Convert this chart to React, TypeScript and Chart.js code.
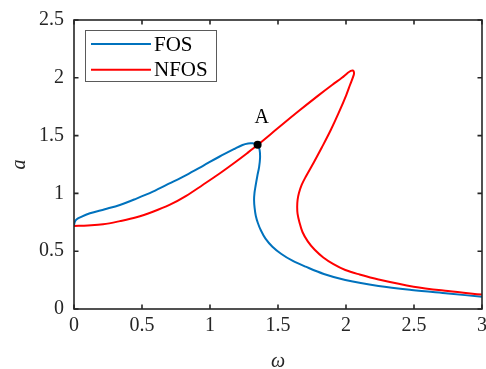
import { useEffect, useRef } from 'react';
import { Chart, registerables } from 'chart.js';

Chart.register(...registerables);

// FOS curve (blue): omega values and amplitudes, in drawing order
const fosOmega = [0, 0.007, 0.018, 0.044, 0.117, 0.227, 0.337, 0.459, 0.58, 0.702, 0.825, 0.946, 1.068, 1.178, 1.239, 1.28, 1.312, 1.335, 1.351, 1.365, 1.368, 1.361, 1.348, 1.335, 1.327, 1.324, 1.328, 1.337, 1.352, 1.373, 1.408, 1.459, 1.525, 1.606, 1.703, 1.837, 1.995, 2.239, 2.482, 2.751, 3.0];
const fosAmp = [0.727, 0.757, 0.774, 0.792, 0.828, 0.863, 0.9, 0.955, 1.015, 1.086, 1.159, 1.237, 1.317, 1.384, 1.419, 1.432, 1.433, 1.427, 1.419, 1.375, 1.306, 1.228, 1.151, 1.064, 1.003, 0.943, 0.874, 0.804, 0.744, 0.683, 0.609, 0.539, 0.476, 0.418, 0.366, 0.303, 0.251, 0.199, 0.164, 0.134, 0.106];

// NFOS curve (red): omega values and amplitudes, in drawing order
const nfosOmega = [0, 0.102, 0.214, 0.337, 0.459, 0.58, 0.702, 0.825, 0.946, 1.068, 1.19, 1.273, 1.351, 1.5, 1.65, 1.8, 1.9, 1.97, 2.01, 2.035, 2.05, 2.058, 2.057, 2.03, 2.002, 1.946, 1.888, 1.824, 1.765, 1.703, 1.674, 1.654, 1.644, 1.641, 1.644, 1.657, 1.68, 1.719, 1.77, 1.833, 1.908, 1.995, 2.1, 2.239, 2.497, 2.75, 3.0];
const nfosAmp = [0.718, 0.723, 0.733, 0.76, 0.793, 0.841, 0.9, 0.979, 1.073, 1.17, 1.274, 1.348, 1.42, 1.565, 1.71, 1.85, 1.94, 2.0, 2.04, 2.06, 2.063, 2.05, 2.025, 1.94, 1.851, 1.696, 1.548, 1.401, 1.272, 1.142, 1.073, 1.003, 0.943, 0.882, 0.822, 0.753, 0.666, 0.585, 0.512, 0.446, 0.388, 0.337, 0.298, 0.255, 0.193, 0.155, 0.125];

// marked point
const markOmega = [1.35];
const markAmp = [1.42];
const markLabels = ['A'];

const seriesLabels = ['FOS', 'NFOS'];
const seriesColors = ['#0072BD', '#FF0000'];

const xTickValues = [0, 0.5, 1, 1.5, 2, 2.5, 3];
const xTickLabels = ['0', '0.5', '1', '1.5', '2', '2.5', '3'];
const yTickValues = [0, 0.5, 1, 1.5, 2, 2.5];
const yTickLabels = ['0', '0.5', '1', '1.5', '2', '2.5'];
const xTitle = 'ω';
const yTitle = 'a';

const FONT = '"Liberation Serif", "Times New Roman", serif';
const AXIS_COLOR = '#262626';

const decorPlugin = {
  id: 'decor',
  afterDatasetsDraw(chart: any) {
    const ctx = chart.ctx;
    const { left, top, right, bottom } = chart.chartArea;
    const xs = chart.scales.x;
    const ys = chart.scales.y;
    ctx.save();
    // box frame
    ctx.strokeStyle = AXIS_COLOR;
    ctx.lineWidth = 1.6;
    ctx.strokeRect(left, top, right - left, bottom - top);
    // inward ticks on all four sides
    const tl = 4.5;
    ctx.beginPath();
    xTickValues.forEach((v) => {
      const px = xs.getPixelForValue(v);
      ctx.moveTo(px, bottom);
      ctx.lineTo(px, bottom - tl);
      ctx.moveTo(px, top);
      ctx.lineTo(px, top + tl);
    });
    yTickValues.forEach((v) => {
      const py = ys.getPixelForValue(v);
      ctx.moveTo(left, py);
      ctx.lineTo(left + tl, py);
      ctx.moveTo(right, py);
      ctx.lineTo(right - tl, py);
    });
    ctx.stroke();

    // point label
    ctx.fillStyle = '#000';
    ctx.font = `20px ${FONT}`;
    ctx.textAlign = 'center';
    ctx.textBaseline = 'middle';
    markLabels.forEach((lab, i) => {
      const px = xs.getPixelForValue(markOmega[i]);
      const py = ys.getPixelForValue(markAmp[i]);
      ctx.fillText(lab, px + 4, py - 27);
    });

    // legend box
    const lx = left + 11;
    const ly = top + 10;
    const lw = 132;
    const lh = 52;
    ctx.fillStyle = '#fff';
    ctx.fillRect(lx, ly, lw, lh);
    ctx.strokeStyle = '#5a5a5a';
    ctx.lineWidth = 1;
    ctx.strokeRect(lx + 0.5, ly + 0.5, lw - 1, lh - 1);
    seriesLabels.forEach((lab, i) => {
      const yy = ly + 14 + i * 25.7;
      ctx.strokeStyle = seriesColors[i];
      ctx.lineWidth = 2;
      ctx.beginPath();
      ctx.moveTo(lx + 6, yy);
      ctx.lineTo(lx + 66, yy);
      ctx.stroke();
      ctx.fillStyle = '#000';
      ctx.textAlign = 'left';
      ctx.textBaseline = 'middle';
      ctx.font = `21px ${FONT}`;
      ctx.fillText(lab, lx + 69, yy + 1);
    });
    ctx.restore();
  },
};

export default function App() {
  const ref = useRef<HTMLCanvasElement | null>(null);
  useEffect(() => {
    document.body.style.margin = '0';
    const canvas = ref.current;
    if (!canvas) return;
    const chart = new Chart(canvas, {
      type: 'line',
      data: {
        datasets: [
          {
            label: markLabels[0],
            data: markOmega.map((x, i) => ({ x, y: markAmp[i] })),
            showLine: false,
            pointRadius: 4,
            pointBackgroundColor: '#000',
            pointBorderColor: '#000',
            pointBorderWidth: 0,
            order: 0,
          },
          {
            label: seriesLabels[1],
            data: nfosOmega.map((x, i) => ({ x, y: nfosAmp[i] })),
            borderColor: seriesColors[1],
            backgroundColor: seriesColors[1],
            borderWidth: 2,
            pointRadius: 0,
            tension: 0.35,
            fill: false,
            order: 1,
          },
          {
            label: seriesLabels[0],
            data: fosOmega.map((x, i) => ({ x, y: fosAmp[i] })),
            borderColor: seriesColors[0],
            backgroundColor: seriesColors[0],
            borderWidth: 2,
            pointRadius: 0,
            tension: 0.35,
            fill: false,
            order: 2,
          },
        ],
      },
      options: {
        animation: false,
        responsive: false,
        devicePixelRatio: 1,
        layout: { padding: { left: 0, top: 20, right: 2, bottom: 0 } },
        plugins: {
          legend: { display: false },
          tooltip: { enabled: false },
        },
        scales: {
          x: {
            type: 'linear',
            min: 0,
            max: 3,
            grid: { display: false, drawTicks: false },
            border: { display: false },
            afterBuildTicks: (axis: any) => {
              axis.ticks = xTickValues.map((v) => ({ value: v }));
            },
            afterFit: (axis: any) => {
              axis.height = 60;
              axis.paddingLeft = 0;
              axis.paddingRight = 0;
            },
            ticks: {
              padding: 5,
              color: AXIS_COLOR,
              font: { family: FONT, size: 20 },
              maxRotation: 0,
              autoSkip: false,
              callback: (_v: any, i: number) => xTickLabels[i],
            },
            title: {
              display: true,
              text: xTitle,
              color: AXIS_COLOR,
              font: { family: FONT, size: 20, style: 'italic', lineHeight: 1 },
              padding: { top: 0, bottom: -3 },
            },
          },
          y: {
            type: 'linear',
            min: 0,
            max: 2.5,
            grid: { display: false, drawTicks: false },
            border: { display: false },
            afterBuildTicks: (axis: any) => {
              axis.ticks = yTickValues.map((v) => ({ value: v }));
            },
            afterFit: (axis: any) => {
              axis.width = 74;
              axis.paddingTop = 0;
              axis.paddingBottom = 0;
            },
            ticks: {
              padding: 10,
              color: AXIS_COLOR,
              font: { family: FONT, size: 20 },
              autoSkip: false,
              callback: (_v: any, i: number) => yTickLabels[i],
            },
            title: {
              display: true,
              text: yTitle,
              color: AXIS_COLOR,
              font: { family: FONT, size: 20, style: 'italic' },
              padding: { top: 8, bottom: 0 },
            },
          },
        },
      },
      plugins: [decorPlugin],
    });
    return () => {
      chart.destroy();
    };
  }, []);
  return (
    <div style={{ width: 486, height: 369 }}>
      <canvas ref={ref} width={486} height={369} style={{ display: 'block' }} />
    </div>
  );
}
